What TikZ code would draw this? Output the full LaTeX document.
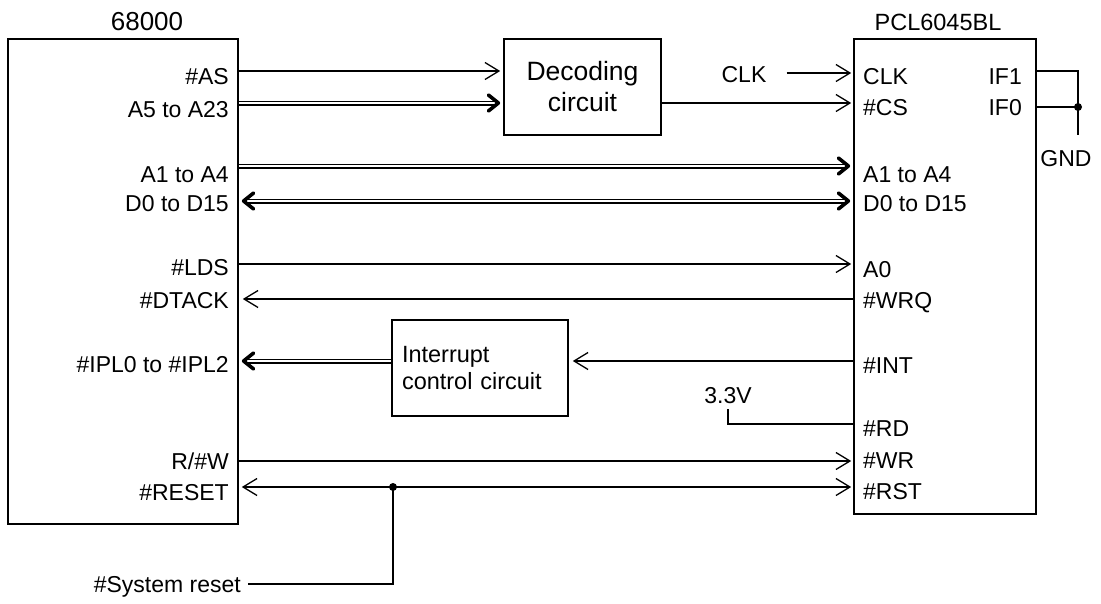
\documentclass[tikz,border=0pt]{standalone}
\usepackage{fontspec}
\setmainfont{Liberation Sans}
\usetikzlibrary{arrows.meta}
\begin{document}
\begin{tikzpicture}[x=1pt,y=-1pt,
  box/.style={draw, line width=1.6pt, inner sep=0pt},
  lbl/.style={inner sep=0pt, font=\fontsize{23}{27}\selectfont, text height=16.5pt, text depth=0pt},
  lblL/.style={lbl, anchor=east},
  lblR/.style={lbl, anchor=west},
  sig/.style={line width=1.6pt},
  otipE/.style={-{Straight Barb[length=14pt,width=17pt,line width=1.3pt]}},
  otipS/.style={{Straight Barb[length=14pt,width=17pt,line width=1.3pt]}-},
  otipB/.style={{Straight Barb[length=14pt,width=17pt,line width=1.3pt]}-{Straight Barb[length=14pt,width=17pt,line width=1.3pt]}},
  bus/.style={double, double distance=1.8pt, line width=1.6pt},
  btipE/.style={-{Straight Barb[length=10pt,width=16pt,line width=3.6pt,round]}},
  btipS/.style={{Straight Barb[length=10pt,width=16pt,line width=3.6pt,round]}-},
  btipB/.style={{Straight Barb[length=10pt,width=16pt,line width=3.6pt,round]}-{Straight Barb[length=10pt,width=16pt,line width=3.6pt,round]}},
  dot/.style={circle, fill, inner sep=0pt, minimum size=8pt},
]
\useasboundingbox (0,0) rectangle (1101,603);
% blocks
\node[box, minimum width=230pt, minimum height=485pt] (cpu) at (123,281.5) {};
\node[box, minimum width=182pt, minimum height=475pt] (pcl) at (945,276.5) {};
\node[box, minimum width=157pt, minimum height=96pt, align=center,
      font=\fontsize{26.5}{31}\selectfont] (dec) at (582.5,87) {Decoding\\circuit};
\node[box, minimum width=176pt, minimum height=96pt, text width=156pt, align=left,
      font=\fontsize{23.5}{27}\selectfont] (intr) at (480,368) {Interrupt\\control circuit};
% titles
\node[lbl, font=\fontsize{26}{30}\selectfont] (t1) at (147,22) {68000};
\node[lbl, font=\fontsize{23.5}{27}\selectfont] (t2) at (938,22) {PCL6045BL};
% left labels
\node[lblL] (lAS) at (229,76) {\#AS};
\node[lblL] (lA5) at (229,109) {A5 to A23\ };
\node[lblL] (lA1) at (229,174) {A1 to A4};
\node[lblL] (lD0) at (229,203) {D0 to D15};
\node[lblL] (lLDS) at (229,267) {\#LDS};
\node[lblL] (lDT) at (229,300) {\#DTACK};
\node[lblL] (lIPL) at (229,364) {\#IPL0 to \#IPL2};
\node[lblL] (lRW) at (229,461) {R/\#W};
\node[lblL] (lRES) at (229,492) {\#RESET};
% right labels
\node[lblR] (rCLK) at (863,76) {CLK};
\node[lblR] (rCS) at (863,107) {\#CS};
\node[lblR] (rA1) at (863,174) {A1 to A4};
\node[lblR] (rD0) at (863,203) {D0 to D15};
\node[lblR] (rA0) at (863,269) {A0};
\node[lblR] (rWRQ) at (863,300) {\#WRQ};
\node[lblR] (rINT) at (863,365) {\#INT};
\node[lblR] (rRD) at (863,428) {\#RD};
\node[lblR] (rWR) at (863,460) {\#WR};
\node[lblR] (rRST) at (863,491) {\#RST};
\node[lblL] (rIF1) at (1022,76) {IF1};
\node[lblL] (rIF0) at (1022,107) {IF0};
% other labels
\node[lbl] (clk) at (744,74) {CLK};
\node[lbl] (gnd) at (1066,158) {GND};
\node[lbl] (v33) at (728,395) {3.3V};
\node[lblL] (sys) at (241,584) {\#System reset};
% connectors
\draw[sig,otipE,shorten >=3pt] (cpu.east |- 0,71) -- (dec.west |- 0,71);
\draw[bus,btipE,shorten >=3pt] (cpu.east |- 0,103) -- (dec.west |- 0,103);
\draw[sig,otipE,shorten >=2pt,shorten <=20pt] (clk.east |- 0,73) -- (pcl.west |- 0,73);
\draw[sig,otipE,shorten >=2pt] (dec.east |- 0,103) -- (pcl.west |- 0,103);
\draw[bus,btipE,shorten >=3pt] (cpu.east |- 0,166) -- (pcl.west |- 0,166);
\draw[bus,btipB,shorten >=3pt,shorten <=3pt] (cpu.east |- 0,201) -- (pcl.west |- 0,201);
\draw[sig,otipE,shorten >=2pt] (cpu.east |- 0,264) -- (pcl.west |- 0,264);
\draw[sig,otipS,shorten <=4pt] (cpu.east |- 0,299) -- (pcl.west |- 0,299);
\draw[bus,btipS,shorten <=3pt] (cpu.east |- 0,361) -- (intr.west |- 0,361);
\draw[sig,otipS,shorten <=4pt] (intr.east |- 0,361) -- (pcl.west |- 0,361);
\draw[sig,shorten <=6pt] (v33.south) |- (pcl.west |- 0,424);
\draw[sig,otipE,shorten >=2pt] (cpu.east |- 0,461) -- (pcl.west |- 0,461);
\draw[sig,otipB,shorten >=2pt,shorten <=3pt] (cpu.east |- 0,487) -- (pcl.west |- 0,487);
\node[dot] (j) at (393,487) {};
\draw[sig,shorten >=7pt] (j.center) |- (sys.east);
\coordinate (g) at (1078,135);
\draw[sig] (pcl.east |- 0,71) -| (g);
\node[dot] (g0) at (g |- 0,107) {};
\draw[sig] (pcl.east |- 0,107) -- (g0.center);
\end{tikzpicture}
\end{document}
